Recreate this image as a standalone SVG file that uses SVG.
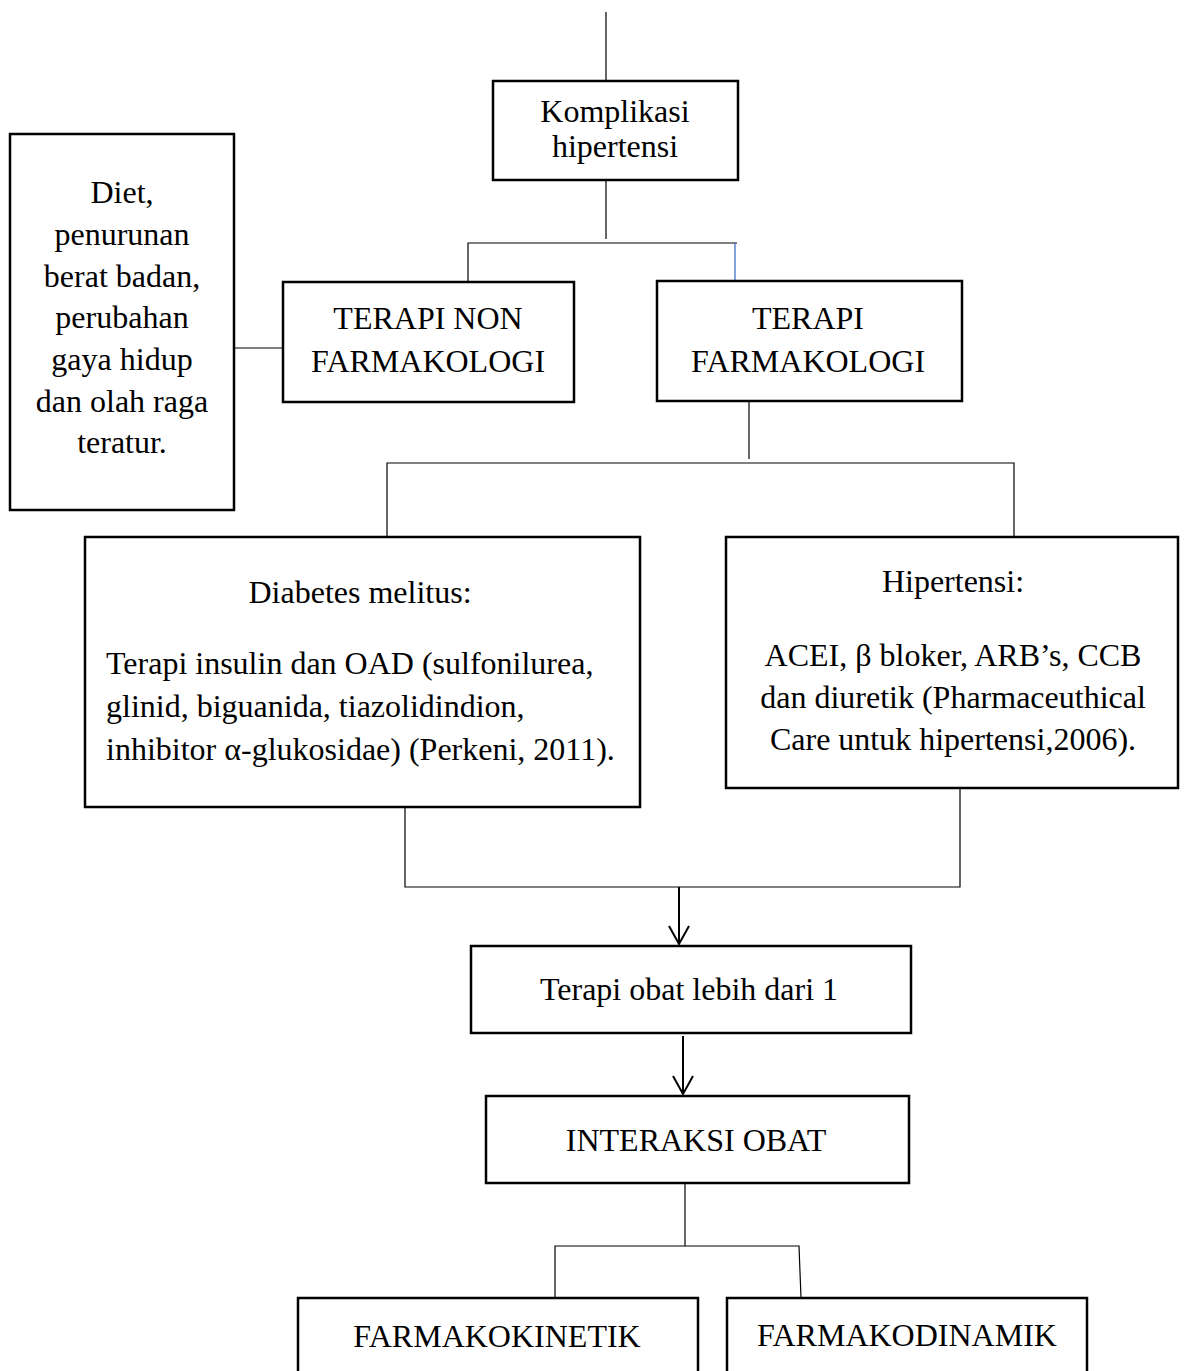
<svg xmlns="http://www.w3.org/2000/svg" width="1186" height="1371" viewBox="0 0 1186 1371">
<style>
.box{fill:#fff;stroke:#000;stroke-width:2.5}
.ln{fill:none;stroke:#000;stroke-width:1.2}
.ar{fill:none;stroke:#000;stroke-width:2}
.t{font-family:"Liberation Serif","Times New Roman",serif;font-size:32px;fill:#000}
.c{text-anchor:middle}
</style>
<defs>
<marker id="arr" markerWidth="24" markerHeight="24" refX="20" refY="12" orient="auto" markerUnits="userSpaceOnUse" viewBox="0 0 24 24">
<path d="M2,2 L20,12 L2,22" fill="none" stroke="#000" stroke-width="2"/>
</marker>
</defs>
<rect width="1186" height="1371" fill="#fff"/>
<g id="connectors">
<line class="ln" x1="606" y1="12" x2="606" y2="81"/>
<line class="ln" x1="606" y1="180" x2="606" y2="239"/>
<polyline class="ln" points="468,282 468,243 737,243"/>
<line x1="735" y1="243" x2="735" y2="281" stroke="#2f66c8" stroke-width="1.2"/>
<line class="ln" x1="234" y1="348" x2="283" y2="348"/>
<line class="ln" x1="749" y1="401" x2="749" y2="459"/>
<polyline class="ln" points="387,537 387,463 1014,463 1014,537"/>
<polyline class="ln" points="405,807 405,887 960,887 960,788"/>
<line class="ar" x1="679" y1="887" x2="679" y2="944" marker-end="url(#arr)"/>
<line class="ar" x1="683" y1="1036" x2="683" y2="1094" marker-end="url(#arr)"/>
<line class="ln" x1="685" y1="1183" x2="685" y2="1246"/>
<polyline class="ln" points="555,1298 555,1246 799,1246 801,1298"/>
</g>
<g id="komplikasi">
<rect class="box" x="493" y="81" width="245" height="99"/>
<text class="t c" x="615" y="122">Komplikasi</text>
<text class="t c" x="615" y="157">hipertensi</text>
</g>
<g id="diet">
<rect class="box" x="10" y="134" width="224" height="376"/>
<text class="t c" x="122" y="203">Diet,</text>
<text class="t c" x="122" y="245">penurunan</text>
<text class="t c" x="122" y="287">berat badan,</text>
<text class="t c" x="122" y="328">perubahan</text>
<text class="t c" x="122" y="370">gaya hidup</text>
<text class="t c" x="122" y="412">dan olah raga</text>
<text class="t c" x="122" y="453">teratur.</text>
</g>
<g id="nonfarmakologi">
<rect class="box" x="283" y="282" width="291" height="120"/>
<text class="t c" x="428" y="329">TERAPI NON</text>
<text class="t c" x="428" y="372">FARMAKOLOGI</text>
</g>
<g id="farmakologi">
<rect class="box" x="657" y="281" width="305" height="120"/>
<text class="t c" x="808" y="329">TERAPI</text>
<text class="t c" x="808" y="372">FARMAKOLOGI</text>
</g>
<g id="diabetes">
<rect class="box" x="85" y="537" width="555" height="270"/>
<text class="t c" x="360" y="603">Diabetes melitus:</text>
<text class="t" x="106" y="674">Terapi insulin dan OAD (sulfonilurea,</text>
<text class="t" x="106" y="717">glinid, biguanida, tiazolidindion,</text>
<text class="t" x="106" y="760">inhibitor α-glukosidae) (Perkeni, 2011).</text>
</g>
<g id="hipertensi">
<rect class="box" x="726" y="537" width="452" height="251"/>
<text class="t c" x="953" y="592">Hipertensi:</text>
<text class="t c" x="953" y="666">ACEI, β bloker, ARB’s, CCB</text>
<text class="t c" x="953" y="708">dan diuretik (Pharmaceuthical</text>
<text class="t c" x="953" y="750">Care untuk hipertensi,2006).</text>
</g>
<g id="terapiobat">
<rect class="box" x="471" y="946" width="440" height="87"/>
<text class="t c" x="689" y="1000">Terapi obat lebih dari 1</text>
</g>
<g id="interaksi">
<rect class="box" x="486" y="1096" width="423" height="87"/>
<text class="t c" x="696" y="1151">INTERAKSI OBAT</text>
</g>
<g id="farmakokinetik">
<rect class="box" x="298" y="1298" width="400" height="100"/>
<text class="t c" x="497" y="1347">FARMAKOKINETIK</text>
</g>
<g id="farmakodinamik">
<rect class="box" x="727" y="1298" width="360" height="100"/>
<text class="t c" x="907" y="1346">FARMAKODINAMIK</text>
</g>
</svg>
